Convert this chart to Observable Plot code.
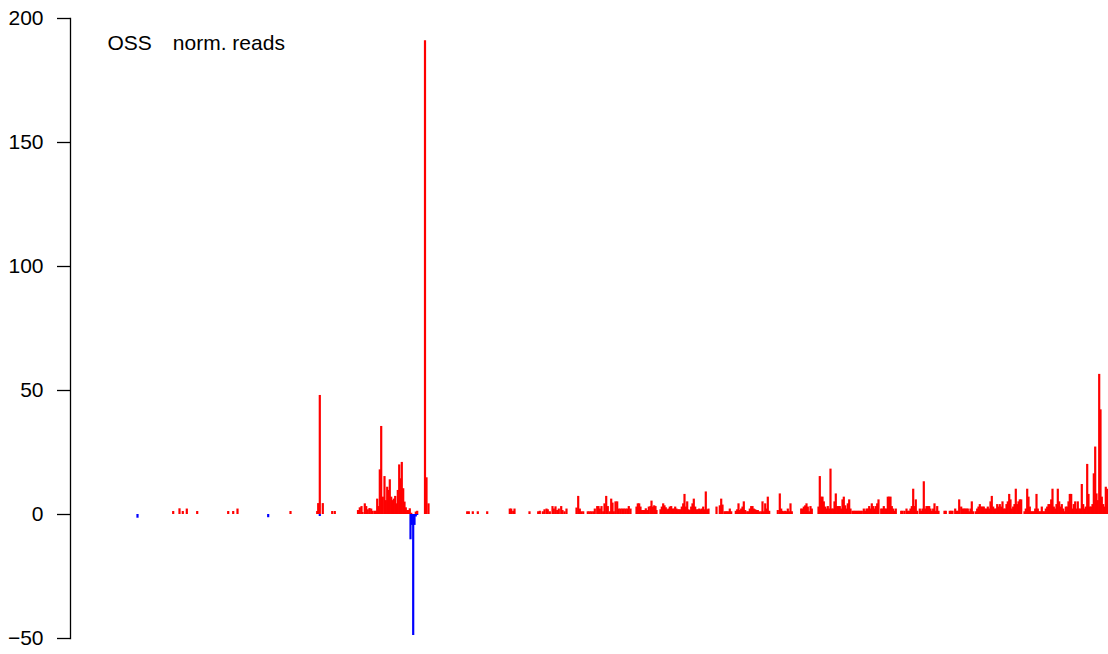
<!DOCTYPE html>
<html>
<head>
<meta charset="utf-8">
<script src="https://cdn.jsdelivr.net/npm/d3@7"></script>
<script src="https://cdn.jsdelivr.net/npm/@observablehq/plot@0.6"></script>
<style>
  html, body { margin: 0; padding: 0; background: #fff; }
  #chart svg { display: block; }
</style>
</head>
<body>
<div id="chart"></div>
<script>
// Track label
const trackName = "OSS";
const trackUnit = "norm. reads";

// y axis ticks
const yTicks = [-50, 0, 50, 100, 150, 200];
const yDomain = [-50, 200];
// position domain (arbitrary units along the region)
const posDomain = [0, 1038];

// Plus-strand signal (red): [position, value]
const redBars = [
  [102.7,1.2],[109,2.3],[112.3,1.2],[116.3,2.2],[126.7,1.2],[157.7,1.2],[162.7,1.2],[167,2.2],
  [220,1.2],[246.7,1.2],[247.7,4.4],[249.3,48],[252.3,4.4],[261.7,1.2],[264.3,1.2],
  [287.5,1.6],[289.3,2.7],[291,3.2],[292,0.8],[294.3,4.3],[295.7,3.2],[297.3,1.9],[299,2.4],
  [300.7,2.2],[302,1.3],[304,1.3],[305.3,1.3],[306.7,6.2],[308,3.2],[309.3,18],[310.7,35.5],
  [312.3,7],[314,15.3],[315.3,5.6],[316.7,11],[318,9.7],[319.3,14],[320.7,7],[322,5.6],
  [323.3,6.2],[324.7,7.3],[326,4.3],[327.3,9.7],[328.7,20],[330,14.4],[331.3,21],[332.7,10.4],
  [334,5],[335.3,2.7],[336.7,1.6],[338,1.6],[339.3,2.3],[340.7,0.5],[345.3,1],[346.7,1.3],
  [354.5,191],[356,14.8],[358,4.3],
  [396.7,1.1],[398.3,1.1],[402.3,1.1],[407.3,1.1],[416.7,1.1],[439.3,2.2],[440.7,2.2],[442.7,1.3],
  [444,2.2],[459,1.1],[467.7,1.1],[469.3,1.3],[472.3,1.1],[474,1.9],[476,2.2],[477.3,1.9],
  [479.3,1.1],[482,3.2],[483.3,2.2],[485,3.1],[486.7,1.6],[488.3,2.2],[490.7,3.2],[492,1.6],
  [494,1.1],[496,2.2],[506,2.6],[507.7,7.3],[509.3,2.2],[510.7,1.1],[512.7,1.1],[517.3,1.1],
  [519,1.1],[520.7,1.1],[522.7,1.1],[524.3,2.2],[526.7,3.2],[528,3.2],[529.3,2.2],[531,3.2],
  [532.7,1.1],[534,4.3],[535.7,7.3],[537.3,3.2],[539.3,1.1],[540.7,6.2],[542,4.6],[543.3,1.1],
  [545,5.1],[546.7,5.1],[548.3,2.2],[550,2.2],[551.7,2.2],[553.3,2.2],[555,2.2],[556.7,2.2],
  [558.3,3.2],[560,2.2],[566,3],[567.3,4.3],[568.7,4.3],[570,3],[571.3,1.6],[572.7,1.6],
  [574,1.6],[575.3,2.3],[576.7,1.6],[578.3,3],[580,3.2],[581,5.4],[582.3,3],[583.7,3.5],
  [585,3.2],[586,1.6],[590,1.9],[591.3,3],[592.7,4.3],[594,3.5],[595.3,2.7],[596.7,1.9],
  [598,2.2],[599.3,3],[600.7,3.2],[602,2.2],[603.3,2.2],[604.7,3],[606,2.2],[607.3,1.9],
  [608.7,1.9],[610,1.9],[611.3,3],[612.7,4.3],[614,8.1],[615.3,3],[616.7,5.1],[618,1.9],
  [619.3,1.6],[620.7,3],[622,4.3],[623.3,6.2],[624.7,3],[626,1.9],[627.3,1.9],[628.7,2.2],
  [630,1.9],[631.3,2.2],[632.7,3],[634,1.9],[635.3,9.1],[636.7,1.9],[638,2.2],
  [646,3],[649.3,3.5],[650.7,6.2],[652,3.8],[654,1.1],[655.3,1.1],[656.7,1.1],[658,1.1],
  [659.3,2.2],[660.7,1.1],[665.3,1.3],[666.7,1.9],[668,4.3],[669.3,1.6],[670.7,2.2],[672,3],
  [673.3,5.1],[674.7,1.6],[676.7,1.1],[678,1.1],[679.3,2.2],[680.7,3.2],[682,3.2],[683.3,2.2],
  [684.7,1.9],[686,1.6],[687.3,1.6],[688.7,1.1],[690.7,1.1],[692,5.1],[693.3,1.1],[694.7,4.3],
  [696,2.2],[697.3,7],[698.7,1.3],[707.3,1.6],[709.3,8.3],[710.7,2.2],[712,1.3],[713.3,1.1],
  [714.7,1.3],[716,1.1],[717.3,2.2],[718.7,1.1],[720,4.3],[721.3,1.1],
  [730.7,2.2],[732,2.2],[733.3,3],[734.7,3.5],[736,4.3],[737.3,3],[738.7,1.1],[740,3.2],
  [741.3,2.2],[748,3],[749.3,15.3],[750.7,7],[752,7],[753.3,5.1],[754.7,3],[756,2.2],
  [757.3,3.2],[758.7,2.2],[760,18.3],[761.3,2.2],[762.7,2.2],[764,5.1],[765.3,8.3],[766.7,3.2],
  [768,3.2],[769.3,3.2],[770.7,2.2],[772,5.9],[773.3,7],[774.7,3.5],[776,2.2],[777.3,4.3],
  [778.7,5.9],[780,2.2],[782,1.3],[783.3,1.3],[784.7,1.3],[786,1.3],[787.3,1.3],[788.7,1.3],
  [790,1.3],[791.3,1.3],[793.3,2.2],[794.7,1.3],[796,2.2],[797.3,2.2],[798.7,3.2],[800,2.2],
  [801.3,4.3],[802.7,3.2],[804,2.2],[805.3,3.2],[806.7,4.3],[808,5.9],[810.7,2.2],[812,2.2],
  [813.3,3.2],[814.7,2.2],[816,2.2],[817.3,7],[818.7,7],[820,7],[821.3,3.2],[822.7,2.2],
  [824,1.3],[825.3,2.2],[830.7,1.3],[832,1.3],[834,1.3],[836,2.2],[837.3,1.3],[838.7,1.3],
  [840,2.2],[841.3,3.2],[842.7,10.2],[844,3.2],[845.3,5.9],[846.7,1.3],[849.3,2.2],[850.7,1.3],
  [852,2.2],[853.3,13.2],[854.7,2.2],[856,3.2],[857.3,3.2],[858.7,3.2],[860,2.2],[861.3,1.3],
  [862.7,2.2],[864,4.3],[865.3,1.3],[866.7,3.2],[868,1.3],[874,1.3],[875.3,1.3],[879.3,1.3],
  [880.7,1.3],[882,1.3],[884.7,2.2],[886,1.3],[887.3,1.3],[888.7,5.9],[890.7,3],[892,2.2],
  [893.3,2.2],[894.7,2.2],[896,2.2],[897.3,2.2],[898.7,1.1],[900,2.2],[901.3,5.1],[902.7,1.1],
  [905.3,1.1],[906.7,2.2],[908,3],[909.3,4],[910.7,3],[912,3],[913.3,3],[914.7,2.2],
  [916,2.2],[917.3,3],[918.7,2.2],[920,5.1],[921.3,7.3],[922.7,3],[924,2.2],[925.3,2.2],
  [926.7,4],[928,3],[929.3,4],[930.7,3],[932,5.1],[933.3,2.2],[934.7,2.2],[936,4],
  [937.3,5.1],[938.7,8.1],[940,5.9],[941.3,2.2],[942.7,3],[944,4],[945.3,10.2],[946.7,4],
  [948,5.1],[949.3,5.9],[950.7,5.9],[954,1.1],[955.3,2.2],[956.7,10.2],[958,7],[959.3,3],
  [960.7,1.1],[962,1.1],[963.3,1.1],[964.7,2.2],[966,8.1],[967.3,2.2],[968.7,1.1],[970,1.1],
  [971.3,3],[972.7,1.1],[974,1.1],[975.3,2.2],[976.7,3],[978,4],[979.3,4],[980.7,5.9],
  [982,10.2],[983.3,3],[984.7,2.2],[986,4],[987.3,10.2],[988.7,5.1],[990,3],[991.3,4],
  [992.7,2.2],[994,1.1],[995.3,3],[996.7,3],[998,5.1],[999.3,8.1],[1000.7,8.1],[1002,2.2],
  [1003.3,4],[1004.7,5.1],[1006,2.2],[1007.3,5.1],[1008.7,2.2],[1010,2.2],[1011.3,12.1],[1012.7,4],
  [1014,2.2],[1015.3,3],[1016.7,20.2],[1018,8.1],[1019.3,3],[1020.7,3],[1022,4],[1023.3,16.4],
  [1024.7,27.2],[1026,8.3],[1027.3,5.6],[1028.7,56.5],[1030,42.2],[1031.3,7],[1032.7,4],[1034,3],
  [1035.3,11],[1036.7,10.2]
];

// Minus-strand signal (blue): [position, value]
const blueBars = [
  [67,-1.5],[197.7,-1.3],[249.3,-0.8],[340,-10.2],[341.3,-4.4],[342.7,-48.8],[344,-4.4],
  [345.3,-1],[346.7,-0.4]
];

const plusColor = "#ff0000";
const minusColor = "#0000ff";

const chart = Plot.plot({
  width: 1108,
  height: 654,
  marginLeft: 70,
  marginRight: 0,
  marginTop: 18,
  marginBottom: 16,
  style: { fontFamily: "'Liberation Sans', Arial, sans-serif", fontSize: "21px", background: "#fff", color: "#000" },
  x: { domain: posDomain, axis: null },
  y: { domain: yDomain, axis: null },
  marks: [
    Plot.ruleX(redBars, { x: d => d[0], y1: 0, y2: d => d[1], stroke: plusColor, strokeWidth: 2.2 }),
    Plot.ruleX(blueBars, { x: d => d[0], y1: 0, y2: d => d[1], stroke: minusColor, strokeWidth: 2.2 }),
    Plot.frame({ anchor: "left", stroke: "#000", strokeWidth: 1.3 }),
    Plot.axisY({ ticks: yTicks, tickSize: 13, tickPadding: 14, fontSize: 21, strokeWidth: 1.3, label: null }),
    Plot.text([`${trackName}\u2002\u2002${trackUnit}`], { frameAnchor: "top-left", dx: 37, dy: 25, text: d => d, textAnchor: "start", lineAnchor: "middle", fontSize: 21, fill: "#000" })
  ]
});
document.getElementById("chart").appendChild(chart);
</script>
</body>
</html>
